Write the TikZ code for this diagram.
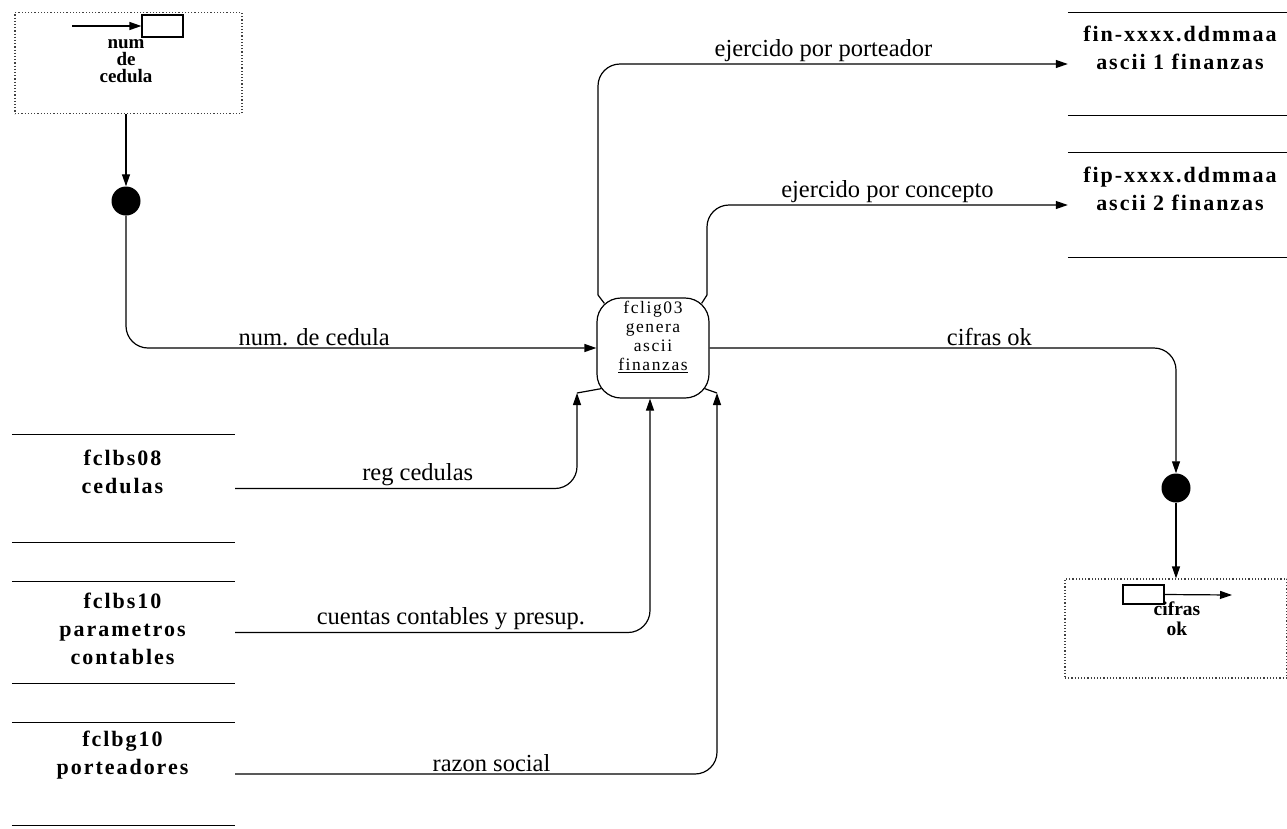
\documentclass[tikz,border=0pt]{standalone}
\usepackage{fontspec}
\setmainfont{Liberation Serif}
\newfontfamily\storefont[LetterSpace=9]{Liberation Serif}
\usetikzlibrary{arrows.meta,calc}
\begin{document}
\begin{tikzpicture}[x=1pt,y=-1pt,
  line/.style={line width=1.2pt},
  tip/.style={-{Triangle[length=12pt,width=8pt]}},
  flow/.style={line, tip, rounded corners=22pt},
  lbl/.style={font=\fontsize{24.5}{26}\selectfont, inner sep=2pt},
  storebox/.style={inner sep=0pt},
  storeline/.style={line width=1.2pt},
  storetext/.style={font=\storefont\bfseries\fontsize{22}{28}\selectfont, align=center, inner sep=0pt},
  dotbox/.style={draw=black!75, dotted, line width=1.2pt, inner sep=0pt},
  dot/.style={circle, fill=black, minimum size=29pt, inner sep=0pt},
  smallbox/.style={draw, line width=1.2pt, inner sep=0pt},
  proc/.style={draw, line width=1.2pt, rounded corners=24pt, inner sep=0pt, minimum width=112pt, minimum height=100pt},
  proctext/.style={font={\storefont\fontsize{17.5}{19}\selectfont}, align=center, inner sep=0pt},
  boxtext/.style={font={\bfseries\fontsize{19}{17}\selectfont\lineskiplimit=-20pt}, align=center, inner sep=0pt}
]
\useasboundingbox (0,0) rectangle (1287,828);

% data stores (right)
\node[storebox, minimum width=219pt, minimum height=103pt] (s1) at (1177.5,64) {};
\node[storebox, minimum width=219pt, minimum height=104pt] (s2) at (1177.5,205) {};
% data stores (left)
\node[storebox, minimum width=223pt, minimum height=107pt] (s3) at (123.5,488.5) {};
\node[storebox, minimum width=223pt, minimum height=101pt] (s4) at (123.5,632.5) {};
\node[storebox, minimum width=223pt, minimum height=102pt] (s5) at (123.5,774) {};
\foreach \s in {s1,s2,s3,s4,s5}{
  \draw[storeline] (\s.north west) -- (\s.north east) (\s.south west) -- (\s.south east);
}
\node[storetext] (s1t) at (1180,47.5) {fin-xxxx.ddmmaa\\ascii 1 finanzas};
\node[storetext] (s2t) at (1180,188.5) {fip-xxxx.ddmmaa\\ascii 2 finanzas};
\node[storetext] (s3t) at (122.5,471.5) {fclbs08\\cedulas};
\node[storetext] (s4t) at (122.5,629) {fclbs10\\parametros\\contables};
\node[storetext] (s5t) at (122.5,755) {fclbg10\\porteadores};

% process
\node[proc] (cn) at (653,348) {};
\node[proctext] (cnt) at (653,337) {fclig03\\genera\\ascii\\\underline{finanzas}};

% external boxes
\node[dotbox, minimum width=227pt, minimum height=101pt] (b1) at (128.5,63) {};
\node[smallbox, minimum width=41pt, minimum height=22pt] (r1) at (162.5,26) {};
\coordinate (a1) at (72,26);
\draw[line, tip] (a1) -- (r1.west);
\node[boxtext] (b1t) at (126,61) {num\\de\\cedula};

\node[dotbox, minimum width=222pt, minimum height=99pt] (b2) at (1176,628.5) {};
\node[smallbox, minimum width=41pt, minimum height=19pt] (r2) at (1143.5,594.5) {};
\coordinate (a2) at (1232,595);
\draw[line, tip] (r2.east) -- (a2);
\node[boxtext, font={\bfseries\fontsize{19.5}{20}\selectfont}] (b2t) at (1177,619) {cifras\\ok};

% dots
\node[dot] (d1) at (126,201) {};
\node[dot] (d2) at (1176,488) {};

% connectors
\draw[flow] (b1.south -| d1) -- (d1.north);
\draw[flow] (d1.south) |- node[lbl, above, pos=0.70] {num. de cedula} (cn.west);
\draw[flow] (cn.east) -| node[lbl, above, pos=0.30] {cifras ok} (d2.north);
\draw[flow] (d2.south) -- (d2.south |- b2.north);

\coordinate (t1) at (598,295);
\draw[line] ($(cn.north west)+(8,6)$) -- (t1);
\draw[flow] (t1) |- node[lbl, above, pos=0.74] {ejercido por porteador} (s1.west);
\coordinate (t2) at (707,295);
\draw[line] ($(cn.north east)+(-8,6)$) -- (t2);
\draw[flow] (t2) |- node[lbl, above, pos=0.75] {ejercido por concepto} (s2.west);

\coordinate (u1) at (577,393);
\draw[line] ($(cn.south west)+(5,-10)$) -- (u1);
\draw[flow] (s3.east) -| node[lbl, above, pos=0.267] {reg cedulas} (u1);
\draw[flow] (s4.east) -| node[lbl, above, pos=0.26] {cuentas contables y presup.} ($(cn.south)+(-3,0)$);
\coordinate (u3) at (717,393);
\draw[line] ($(cn.south east)+(-5,-10)$) -- (u3);
\draw[flow] (s5.east) -| node[lbl, above, pos=0.266] {razon social} (u3);
\end{tikzpicture}
\end{document}
